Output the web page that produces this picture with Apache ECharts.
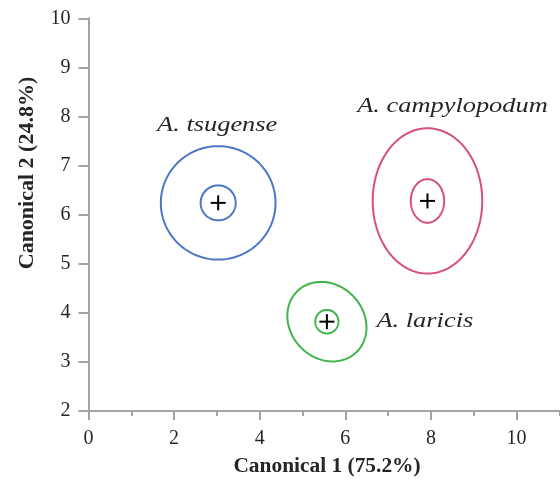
<!DOCTYPE html>
<html><head><meta charset="utf-8">
<script src="https://cdn.jsdelivr.net/npm/echarts@6/dist/echarts.min.js"></script>
<style>html,body{margin:0;padding:0;background:#fff}#c{width:560px;height:479px}</style>
</head><body><div id="c"></div>
<script>
// ---- data ----
const species = ['A. tsugense', 'A. campylopodum', 'A. laricis'];
const centerX = [3.03, 7.92, 5.57];
const centerY = [6.24, 6.28, 3.82];
const outerRx = [1.34, 1.28, 0.95];
const outerRy = [1.155, 1.48, 0.78];
const outerRot = [0, 0, -24];
const innerRx = [0.41, 0.39, 0.27];
const innerRy = [0.356, 0.444, 0.24];
const xMajorTicks = [0, 2, 4, 6, 8, 10];
const xMinorTicks = [1, 3, 5, 7, 9, 11];
const yTicks = [2, 3, 4, 5, 6, 7, 8, 9, 10];
const xAxisTitle = 'Canonical 1 (75.2%)';
const yAxisTitle = 'Canonical 2 (24.8%)';

// ---- styling ----
const colors = ['#4d76c4', '#d6507a', '#3fb44b'];
const labelPlace = [
  { side: 'top', dx: -1, gap: 10 },
  { side: 'top', dx: 25, gap: 11 },
  { side: 'right', dx: 10, dy: 0 }
];
const serif = '"Liberation Serif", "Times New Roman", serif';
const axisGray = '#a3a3a3';
const textColor = '#262626';

const seriesData = species.map((s, i) => [i, centerX[i], centerY[i], outerRx[i], outerRy[i], outerRot[i], innerRx[i], innerRy[i]]);

function ellipsePoints(api, cx, cy, rx, ry, rotDeg) {
  const r = rotDeg * Math.PI / 180, pts = [], N = 160;
  for (let k = 0; k < N; k++) {
    const t = 2 * Math.PI * k / N;
    const x = cx + rx * Math.cos(t) * Math.cos(r) - ry * Math.sin(t) * Math.sin(r);
    const y = cy + rx * Math.cos(t) * Math.sin(r) + ry * Math.sin(t) * Math.cos(r);
    pts.push(api.coord([x, y]));
  }
  return pts;
}

function renderItem(params, api) {
  const i = api.value(0);
  const cx = api.value(1), cy = api.value(2);
  const outer = ellipsePoints(api, cx, cy, api.value(3), api.value(4), api.value(5));
  const inner = ellipsePoints(api, cx, cy, api.value(6), api.value(7), 0);
  const c = api.coord([cx, cy]);
  let minY = Infinity, maxX = -Infinity;
  outer.forEach(p => { if (p[1] < minY) minY = p[1]; if (p[0] > maxX) maxX = p[0]; });
  const lp = labelPlace[i];
  let tx, ty, align, valign;
  if (lp.side === 'top') { tx = c[0] + lp.dx; ty = minY - lp.gap; align = 'center'; valign = 'bottom'; }
  else { tx = maxX + lp.dx; ty = c[1] + lp.dy; align = 'left'; valign = 'middle'; }
  const h = 7.5;
  const plusStyle = { stroke: '#000', lineWidth: 2 };
  return {
    type: 'group',
    children: [
      { type: 'polygon', shape: { points: outer }, style: { fill: 'none', stroke: colors[i], lineWidth: 2 } },
      { type: 'polygon', shape: { points: inner }, style: { fill: 'none', stroke: colors[i], lineWidth: 2 } },
      { type: 'line', shape: { x1: c[0] - h, y1: c[1], x2: c[0] + h, y2: c[1] }, style: plusStyle },
      { type: 'line', shape: { x1: c[0], y1: c[1] - h, x2: c[0], y2: c[1] + h }, style: plusStyle },
      { type: 'text', x: tx, y: ty, scaleX: 1.2,
        style: { text: species[i], font: 'italic 22px ' + serif, fill: textColor, textAlign: align, textVerticalAlign: valign } }
    ]
  };
}

const chart = echarts.init(document.getElementById('c'), null, { renderer: 'canvas' });
chart.setOption({
  animation: false,
  backgroundColor: '#fff',
  grid: { left: 88.5, right: 0.7, top: 18.3, bottom: 68, containLabel: false },
  xAxis: [
    { type: 'value', min: 0, max: 11, position: 'bottom',
      axisLine: { show: true, onZero: false, lineStyle: { color: axisGray, width: 2 } },
      axisTick: { show: true, length: 9, customValues: xMajorTicks, lineStyle: { color: axisGray, width: 2 } },
      axisLabel: { customValues: xMajorTicks, fontSize: 20, fontFamily: serif, color: textColor, margin: 18 },
      splitLine: { show: false } },
    { type: 'value', min: 0, max: 11, position: 'bottom',
      axisLine: { show: false, onZero: false },
      axisTick: { show: true, length: 5, customValues: xMinorTicks, lineStyle: { color: axisGray, width: 2 } },
      axisLabel: { show: false },
      splitLine: { show: false } }
  ],
  yAxis: {
    type: 'value', min: 2, max: 10, interval: 1,
    axisLine: { show: true, onZero: false, lineStyle: { color: axisGray, width: 2 } },
    axisTick: { show: true, length: 10, customValues: yTicks, lineStyle: { color: axisGray, width: 2 } },
    axisLabel: { customValues: yTicks, fontSize: 20, fontFamily: serif, color: textColor, margin: 18 },
    splitLine: { show: false }
  },
  graphic: [
    { type: 'text', x: 327, y: 467, scaleX: 1.07,
      style: { text: xAxisTitle, font: 'bold 20px ' + serif, fill: textColor, textAlign: 'center', textVerticalAlign: 'middle' } },
    { type: 'text', x: 28, y: 173, rotation: Math.PI / 2, scaleX: 1.1,
      style: { text: yAxisTitle, font: 'bold 20px ' + serif, fill: textColor, textAlign: 'center', textVerticalAlign: 'middle' } }
  ],
  series: [{
    type: 'custom', coordinateSystem: 'cartesian2d', xAxisIndex: 0, yAxisIndex: 0,
    silent: true, clip: false,
    encode: { x: 1, y: 2 },
    renderItem: renderItem,
    data: seriesData
  }]
});
</script>
</body></html>
